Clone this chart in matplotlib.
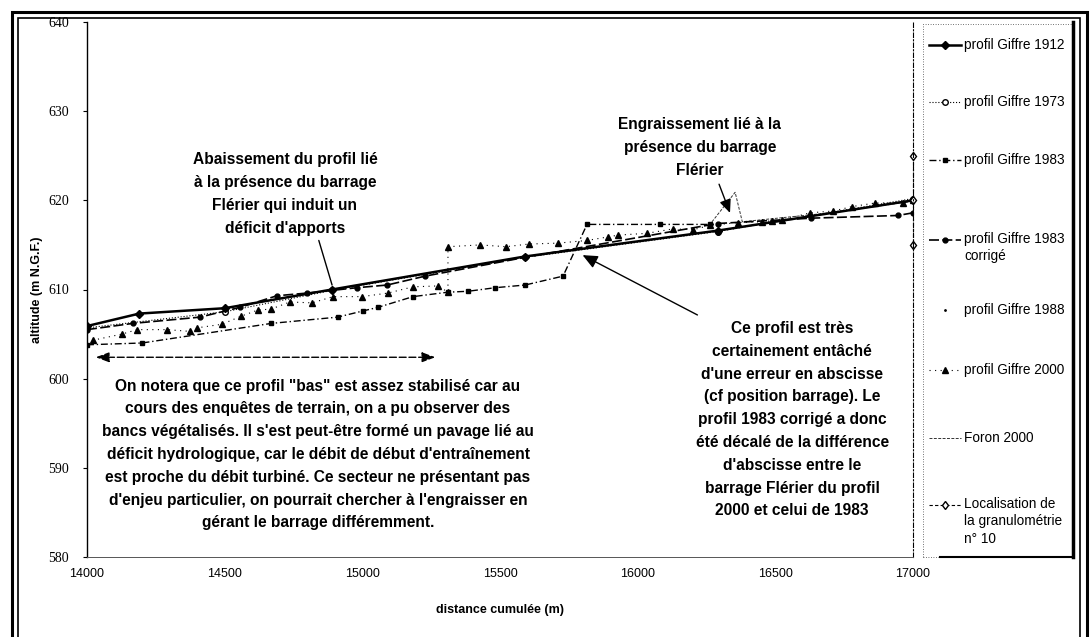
import matplotlib
matplotlib.use('Agg')
import matplotlib.pyplot as plt
from matplotlib.lines import Line2D
from matplotlib.patches import Rectangle

plt.rcParams['font.family'] = ['Liberation Sans', 'DejaVu Sans']

# profil Giffre 1912
x_1912 = [14000, 14190, 14500, 14890, 15590, 16290, 17000]
y_1912 = [605.9, 607.3, 607.9, 610.0, 613.7, 616.6, 620.0]

# profil Giffre 1973 (mostly hidden under the 1912 line)
x_1973 = [14000, 14500, 14890, 15590, 16290, 17000]
y_1973 = [605.7, 607.5, 609.9, 613.6, 616.5, 620.2]

# profil Giffre 1983
x_1983 = [14000, 14200, 14670, 14910, 15003, 15057, 15184, 15311, 15384, 15482,
          15591, 15729, 15816, 16081, 16263]
y_1983 = [603.8, 604.0, 606.2, 606.9, 607.6, 608.0, 609.2, 609.7, 609.8, 610.2,
          610.5, 611.5, 617.3, 617.3, 617.3]

# profil Giffre 1983 corrige
x_1983c = [14000, 14167, 14410, 14556, 14690, 14800, 14980, 15090, 15228,
           15590, 16290, 16630, 16945, 17000]
y_1983c = [605.5, 606.2, 606.9, 608.0, 609.3, 609.6, 610.2, 610.5, 611.5,
           613.6, 617.4, 618.0, 618.3, 618.6]

# profil Giffre 1988 (nothing visible on the plot)
x_1988 = []
y_1988 = []

# profil Giffre 2000
x_2000 = [14020, 14127, 14182, 14291, 14374, 14400, 14490, 14559, 14621, 14668,
          14737, 14817, 14894, 14999, 15093, 15184, 15275, 15311, 15311, 15428,
          15522, 15605, 15711, 15816, 15893, 15929, 16034, 16129, 16201, 16263,
          16365, 16452, 16487, 16525, 16626, 16710, 16779, 16862, 16964, 17000]
y_2000 = [604.3, 605.0, 605.5, 605.5, 605.3, 605.7, 606.1, 607.0, 607.7, 607.8,
          608.6, 608.5, 609.2, 609.2, 609.6, 610.3, 610.4, 609.7, 614.8, 615.0,
          614.8, 615.1, 615.2, 615.5, 615.9, 616.1, 616.3, 616.8, 616.7, 617.2,
          617.5, 617.6, 617.7, 617.8, 618.6, 618.8, 619.3, 619.7, 619.7, 620.0]

# Foron 2000
x_foron = [16260, 16354, 16380, 16700, 17000]
y_foron = [617.2, 620.9, 617.6, 618.6, 619.9]

# localisation de la granulometrie n 10
x_loc = [17000, 17000, 17000]
y_loc = [625, 620, 615]

x_ticks = [14000, 14500, 15000, 15500, 16000, 16500, 17000]
y_ticks = [580, 590, 600, 610, 620, 630, 640]

W, H = 1092, 637


def fx(px):
    return px / W


def fy(py):
    return 1 - py / H


fig = plt.figure(figsize=(W / 100, H / 100), dpi=100)
ax = fig.add_axes([fx(87), fy(557), (913 - 87) / W, (557 - 22) / H])

styles = {
    '1912': dict(ls='-', lw=1.8, marker='D', ms=4),
    '1973': dict(ls=':', lw=0.8, marker='o', ms=4, mfc='white'),
    '1983': dict(ls=(0, (5, 2, 1, 2)), lw=1.0, marker='s', ms=3.5),
    '1983c': dict(ls=(0, (6, 2)), lw=1.2, marker='o', ms=3.5),
    '1988': dict(ls='none', marker='.', ms=2),
    '2000': dict(ls=(0, (1, 4)), lw=0.8, marker='^', ms=5),
    'foron': dict(ls=(0, (3, 1.5)), lw=0.7),
    'loc': dict(ls=(0, (3, 2)), lw=0.8, marker='d', ms=4.5, mfc='white'),
}

ax.plot(x_foron, y_foron, color='#333333', **styles['foron'])
ax.plot(x_1973, y_1973, color='black', **styles['1973'])
ax.plot(x_1983, y_1983, color='black', **styles['1983'])
ax.plot(x_1983c, y_1983c, color='black', **styles['1983c'])
ax.plot(x_1988, y_1988, color='black', **styles['1988'])
ax.plot(x_2000, y_2000, color='black', **styles['2000'])
ax.plot(x_1912, y_1912, color='black', **styles['1912'])
ax.plot(x_loc, y_loc, color='black', clip_on=False, **styles['loc'])

ax.set_xlim(14000, 17000)
ax.set_ylim(580, 640)
ax.set_xticks(x_ticks)
ax.set_yticks(y_ticks)
ax.tick_params(axis='x', length=0, pad=8, labelsize=9)
ax.tick_params(axis='y', length=3, width=0.8, pad=10, labelsize=10)
for lab in ax.get_yticklabels():
    lab.set_family('Liberation Serif')

ax.spines['top'].set_visible(False)
ax.spines['left'].set_linewidth(1.0)
ax.spines['bottom'].set_linestyle((0, (2, 1)))
ax.spines['bottom'].set_linewidth(0.7)
ax.spines['bottom'].set_color('#555555')
ax.spines['right'].set_linestyle((0, (4, 2, 1, 2)))
ax.spines['right'].set_linewidth(0.8)

ax.set_xlabel('distance cumulée (m)', fontsize=9, fontweight='bold', labelpad=17)
ax.set_ylabel('altitude (m N.G.F.)', fontsize=9, fontweight='bold', labelpad=4)

# annotations
tkw = dict(fontsize=11.2, fontweight='bold', ha='center', va='center', linespacing=1.65)
ax.text(14719, 620.7, "Abaissement du profil lié\nà la présence du barrage\n"
        "Flérier qui induit un\ndéficit d'apports", **tkw)
ax.text(16226, 625.9, "Engraissement lié à la\nprésence du barrage\nFlérier", **tkw)
ax.text(16561, 595.4, "Ce profil est très\ncertainement entâché\n"
        "d'une erreur en abscisse\n(cf position barrage). Le\n"
        "profil 1983 corrigé a donc\nété décalé de la différence\n"
        "d'abscisse entre le\nbarrage Flérier du profil\n2000 et celui de 1983", **tkw)
ax.text(14839, 591.5, "On notera que ce profil \"bas\" est assez stabilisé car au\n"
        "cours des enquêtes de terrain, on a pu observer des\n"
        "bancs végétalisés. Il s'est peut-être formé un pavage lié au\n"
        "déficit hydrologique, car le débit de début d'entraînement\n"
        "est proche du débit turbiné. Ce secteur ne présentant pas\n"
        "d'enjeu particulier, on pourrait chercher à l'engraisser en\n"
        "gérant le barrage différemment.", **tkw)

ax.annotate('', xy=(14893, 610.2), xytext=(14839, 615.8),
            arrowprops=dict(arrowstyle='-', lw=1.0, color='black'))
ax.annotate('', xy=(16339, 618.3), xytext=(16292, 622.1),
            arrowprops=dict(arrowstyle='-|>,head_length=0.8,head_width=0.35',
                            lw=1.0, color='black'))
ax.annotate('', xy=(15791, 614.0), xytext=(16226, 607.0),
            arrowprops=dict(arrowstyle='-|>,head_length=0.9,head_width=0.4',
                            lw=1.0, color='black'))
ax.annotate('', xy=(15275, 602.4), xytext=(14022, 602.4),
            arrowprops=dict(arrowstyle='<|-|>,head_length=0.8,head_width=0.3',
                            lw=1.0, ls=(0, (5, 2)), color='black'))

# legend drawn by hand to match the box layout
legend_items = [
    ('profil Giffre 1912', '1912', 45),
    ('profil Giffre 1973', '1973', 102),
    ('profil Giffre 1983', '1983', 160),
    ('profil Giffre 1983\ncorrigé', '1983c', 240),
    ('profil Giffre 1988', '1988', 310),
    ('profil Giffre 2000', '2000', 370),
    ('Foron 2000', 'foron', 438),
    ('Localisation de\nla granulométrie\nn° 10', 'loc', 505),
]
for label, key, py in legend_items:
    st = dict(styles[key])
    col = '#333333' if key == 'foron' else 'black'
    fig.add_artist(Line2D([fx(929), fx(945), fx(961)], [fy(py)] * 3,
                          transform=fig.transFigure, color=col, markevery=[1], **st))
    if '\n' in label:
        fig.text(fx(964), fy(py - 8), label, fontsize=9.8, ha='left', va='top',
                 linespacing=1.3)
    else:
        fig.text(fx(964), fy(py), label, fontsize=9.8, ha='left', va='center')

# legend box and outer double frame
fig.add_artist(Rectangle((fx(923), fy(557)), (1073 - 923) / W, (557 - 24) / H,
                         transform=fig.transFigure, fill=False, lw=0.6,
                         ls=(0, (1, 2)), edgecolor='#444444'))
fig.add_artist(Line2D([fx(1073), fx(1073)], [fy(22), fy(557)],
                      transform=fig.transFigure, color='black', lw=2.5))
fig.add_artist(Line2D([fx(940), fx(1073)], [fy(557), fy(557)],
                      transform=fig.transFigure, color='black', lw=1.5))
fig.add_artist(Rectangle((fx(12), -0.05), (1087 - 12) / W, fy(12) + 0.05,
                         transform=fig.transFigure, fill=False, lw=2.2,
                         edgecolor='black'))
fig.add_artist(Rectangle((fx(18), -0.05), (1080 - 18) / W, fy(18) + 0.05,
                         transform=fig.transFigure, fill=False, lw=1.2,
                         edgecolor='black'))

fig.savefig('out.png', dpi=100)
